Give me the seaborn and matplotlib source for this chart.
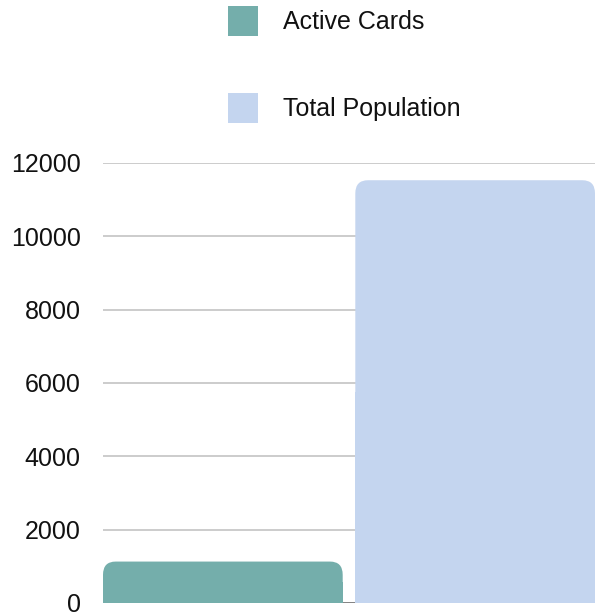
import matplotlib
matplotlib.use("Agg")
import matplotlib.pyplot as plt
import seaborn as sns
from matplotlib.patches import FancyBboxPatch, Rectangle, Patch

# dati del grafico
categories = ["Active Cards", "Total Population"]
values = [1130, 11530]
colors = ["#74aeab", "#c4d5ef"]
y_ticks = [0, 2000, 4000, 6000, 8000, 10000, 12000]

sns.set_style("white")
plt.rcParams['font.family'] = ['Liberation Sans', 'DejaVu Sans']

W, H = 595, 615
fig = plt.figure(figsize=(W / 100, H / 100), dpi=100)
ax = fig.add_axes([103 / W, 12 / H, 492 / W, 440 / H])

sns.barplot(x=categories, y=values, hue=categories, palette=colors,
            width=0.95, legend=False, ax=ax, saturation=1, zorder=3)

# angoli arrotondati in alto
r_x = 0.05
r_y = 360
for bar in list(ax.patches):
    x0, y0 = bar.get_x(), bar.get_y()
    w, h = bar.get_width(), bar.get_height()
    col = bar.get_facecolor()
    bar.set_visible(False)
    ax.add_patch(FancyBboxPatch((x0, y0), w, h,
                                boxstyle=f"round,pad=0,rounding_size={r_x}",
                                mutation_aspect=r_y / r_x,
                                facecolor=col, edgecolor="none", zorder=3))
    ax.add_patch(Rectangle((x0, y0), w, h / 2, facecolor=col,
                           edgecolor="none", zorder=3))

ax.set_xlim(-0.475, 1.475)
ax.set_ylim(0, 12000)
ax.set_yticks(y_ticks)
ax.set_yticklabels([str(t) for t in y_ticks])
ax.set_xticks([])
ax.yaxis.grid(True, color="#c4c4c4", linewidth=1.2, zorder=0)
ax.set_axisbelow(True)
ax.axhline(0, color="#777777", linewidth=1.2, zorder=1)
ax.tick_params(axis="y", length=0, pad=16, labelsize=18, labelcolor="#111111")
for s in ax.spines.values():
    s.set_visible(False)

handles = [Patch(facecolor=c, edgecolor="none") for c in colors]
fig.legend(handles, categories, loc="upper left",
           bbox_to_anchor=(228 / W, 1 - 6 / H), frameon=False,
           fontsize=18, handlelength=1.2, handleheight=1.47,
           handletextpad=1.0, labelspacing=2.28, borderpad=0,
           borderaxespad=0, labelcolor="#111111")

fig.savefig("out.png", dpi=100)
